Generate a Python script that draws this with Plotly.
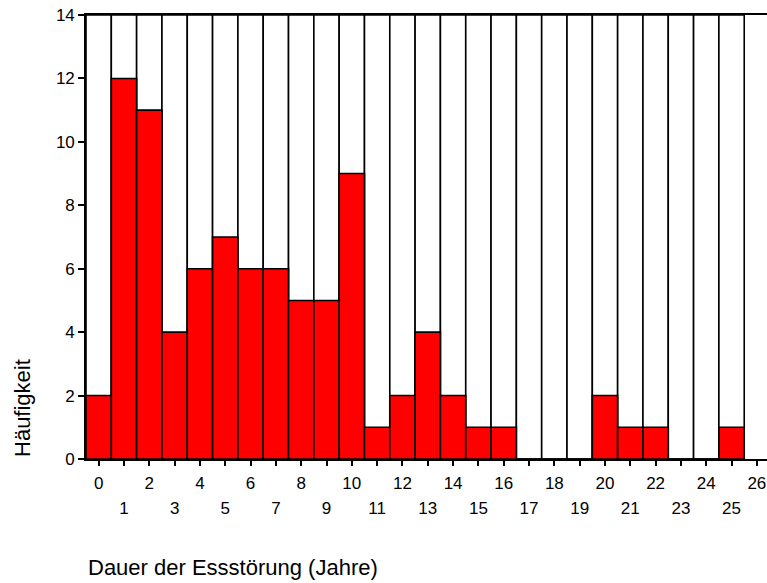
import plotly.graph_objects as go

# Duration of the eating disorder (years) and frequency per bin
years = list(range(26))
counts = [2, 12, 11, 4, 6, 7, 6, 6, 5, 5, 9, 1, 2, 4, 2, 1, 1, 0, 0, 0, 2, 1, 1, 0, 0, 1]

tick_vals = list(range(27))
odd_ticks = [v for v in tick_vals if v % 2 == 1]
y_ticks = [0, 2, 4, 6, 8, 10, 12, 14]
y_max = 14

FONT = 'Liberation Sans, Arial, sans-serif'
X_RANGE = [-0.5, 26.4]

fig = go.Figure()

# empty frame cells behind every bin
fig.add_trace(go.Bar(
    x=years,
    y=[y_max] * len(years),
    width=1,
    marker=dict(color='white', line=dict(color='black', width=1.6)),
    hoverinfo='skip',
    showlegend=False,
))

# the frequencies
fig.add_trace(go.Bar(
    x=years,
    y=counts,
    width=1,
    marker=dict(color='#ff0000', line=dict(color='black', width=1.6)),
    showlegend=False,
))

# helper trace so the second (odd label) axis gets drawn
fig.add_trace(go.Scatter(
    x=odd_ticks, y=[0] * len(odd_ticks), xaxis='x2',
    mode='none', hoverinfo='skip', showlegend=False,
))

fig.update_layout(
    barmode='overlay',
    width=767,
    height=583,
    margin=dict(l=86, r=0, t=15, b=124),
    plot_bgcolor='white',
    paper_bgcolor='white',
    font=dict(family=FONT, size=17, color='black'),
    xaxis=dict(
        range=X_RANGE,
        tickmode='array',
        tickvals=tick_vals,
        ticktext=[str(v) if v % 2 == 0 else '' for v in tick_vals],
        ticks='outside',
        ticklen=5,
        tickwidth=1.5,
        tickcolor='black',
        ticklabelstandoff=3,
        ticklabeloverflow='allow',
        showline=True,
        linecolor='black',
        linewidth=1.6,
        mirror=True,
        showgrid=False,
        zeroline=False,
        tickfont=dict(size=17),
    ),
    xaxis2=dict(
        range=X_RANGE,
        overlaying='x',
        anchor='y',
        side='bottom',
        tickmode='array',
        tickvals=odd_ticks,
        ticktext=[str(v) for v in odd_ticks],
        ticks='',
        showline=False,
        showgrid=False,
        zeroline=False,
        ticklabelstandoff=37,
        ticklabeloverflow='allow',
        tickfont=dict(size=17),
    ),
    yaxis=dict(
        range=[0, y_max],
        tickmode='array',
        tickvals=y_ticks,
        ticks='outside',
        ticklen=6,
        tickwidth=1.5,
        tickcolor='black',
        showline=True,
        linecolor='black',
        linewidth=1.6,
        showgrid=False,
        zeroline=False,
        tickfont=dict(size=17),
    ),
    annotations=[
        dict(
            text='Dauer der Essstörung (Jahre)',
            xref='paper', yref='paper',
            x=0, y=-0.245,
            xanchor='left', yanchor='middle',
            showarrow=False,
            font=dict(size=22),
        ),
        dict(
            text='Häufigkeit',
            xref='paper', yref='paper',
            x=-0.094, y=0,
            xanchor='center', yanchor='bottom',
            textangle=-90,
            showarrow=False,
            font=dict(size=22),
        ),
    ],
)

# the page has a default 8px body margin; drop it so the figure fills the window
fig.write_html(
    'out.html',
    config={'displayModeBar': False},
    post_script="document.body.style.margin = '0';",
)
